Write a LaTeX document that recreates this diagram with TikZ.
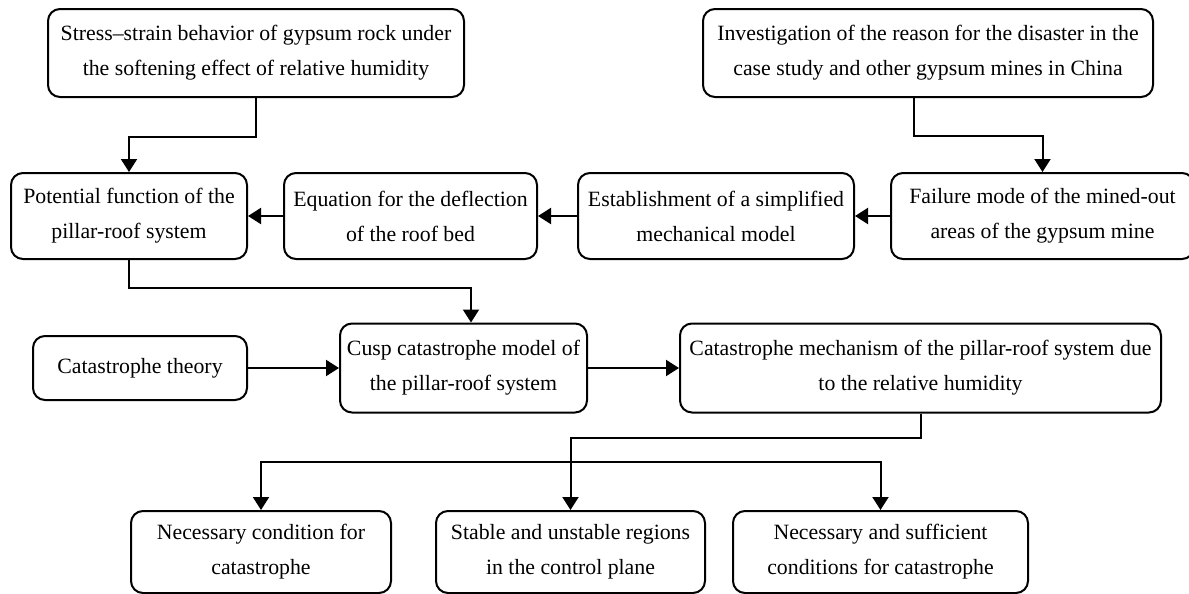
\documentclass[tikz,border=0pt]{standalone}
\usepackage{fontspec}
\setmainfont{Liberation Serif}
\usetikzlibrary{positioning,arrows.meta}
\tikzset{box/.style={draw,rounded corners=6pt,line width=1pt,align=center,inner sep=0pt,
                     font=\fontsize{10.9}{17.5}\selectfont},
         arr/.style={line width=1pt,-{Triangle[length=6.5pt,width=8pt]}},
            }

\begin{document}
\begin{tikzpicture}[x=0.5pt,y=0.5pt]
    \useasboundingbox (0,0) rectangle (1189,-594);

    \node[box,minimum width=208pt,minimum height=44pt] (stress) at (256,-53)
        {Stress--strain behavior of gypsum rock under\\the softening effect of relative humidity};
    \node[box,minimum width=225pt,minimum height=44pt] (invest) at (928,-53)
        {Investigation of the reason for the disaster in the\\case study and other gypsum mines in China};

    \node[box,minimum width=118pt,minimum height=43pt] (potential) at (129,-216)
        {Potential function of the\\pillar-roof system};
    \node[box,minimum width=126.5pt,minimum height=43pt] (equation) [right=17.5pt of potential]
        {Equation for the deflection\\of the roof bed};
    \node[box,minimum width=138pt,minimum height=43pt] (establish) [right=19.5pt of equation]
        {Establishment of a simplified\\mechanical model};
    \node[box,minimum width=151.5pt,minimum height=43pt] (failure) [right=17.5pt of establish]
        {Failure mode of the mined-out\\areas of the gypsum mine};

    \node[box,minimum width=107pt,minimum height=32pt] (theory) at (140,-368) {Catastrophe theory};
    \node[box,minimum width=123.5pt,minimum height=44.5pt] (cusp) [right=45.5pt of theory]
        {Cusp catastrophe model of\\the pillar-roof system};
    \node[box,minimum width=240.5pt,minimum height=44.5pt] (mechanism) [right=45.5pt of cusp]
        {Catastrophe mechanism of the pillar-roof system due\\to the relative humidity};

    \node[box,minimum width=130pt,minimum height=41pt] (nec) at (261,-552)
        {Necessary condition for\\catastrophe};
    \node[box,minimum width=134.5pt,minimum height=41pt] (stab) [right=21.5pt of nec]
        {Stable and unstable regions\\in the control plane};
    \node[box,minimum width=147.5pt,minimum height=41pt] (suff) [right=13pt of stab]
        {Necessary and sufficient\\conditions for catastrophe};

    \draw[arr] (stress.south) -- ++(0,-39) -| (potential.north);
    \draw[arr] ([xshift=-7pt]invest.south) -- ++(0,-38) -| (failure.north);
    \draw[arr] (failure) -- (establish);
    \draw[arr] (establish) -- (equation);
    \draw[arr] (equation) -- (potential);
    \draw[arr] (potential.south) -- ++(0,-28) -| ([xshift=3.75pt]cusp.north);
    \draw[arr] (theory) -- (cusp);
    \draw[arr] (cusp) -- (mechanism);
    \draw[arr] (mechanism.south) -- ++(0,-24) -| (stab.north);

    \path (stab.north) ++(0,48) coordinate (fork);
    \draw[arr] (fork) -| (nec.north);
    \draw[arr] (fork) -| (suff.north);

\end{tikzpicture}
\end{document}
